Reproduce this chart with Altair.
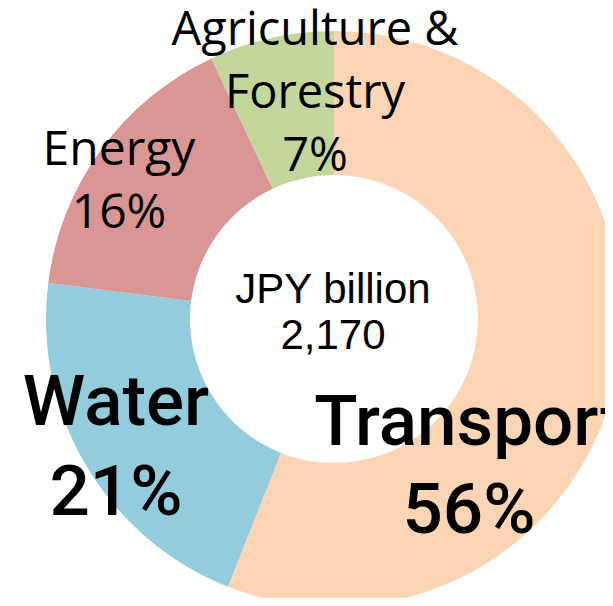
import altair as alt
import pandas as pd

categories = ["Transport", "Water", "Energy", "Agriculture & Forestry"]
label_names = ["Transport", "Water", "Energy", "Agriculture &\nForestry"]
shares = [56, 21, 16, 7]
colors = ["#FCD5B5", "#93CDDD", "#D99694", "#C3D69B"]
total_value = 2170
total_unit = "JPY billion"

df = pd.DataFrame({
    "category": categories,
    "value": shares,
    "idx": list(range(len(categories))),
    "label": [f"{n}\n{v}%" for n, v in zip(label_names, shares)],
})
center_df = pd.DataFrame({"text": [f"{total_unit}\n{total_value:,}"]})

CX, CY = 326, 311

base = alt.Chart(df)

arcs = base.mark_arc(radius=288, radius2=144, stroke=None).encode(
    theta=alt.Theta("value:Q", stack=True),
    color=alt.Color("category:N", scale=alt.Scale(domain=categories, range=colors), legend=None),
    order=alt.Order("idx:Q"),
    x=alt.value(CX),
    y=alt.value(CY),
)

label_style = {
    "Transport": dict(x=461, y=437, font="Roboto", fontSize=71, lineHeight=88, fontWeight=500),
    "Water": dict(x=108, y=417, font="Roboto", fontSize=71, lineHeight=90, fontWeight=500),
    "Energy": dict(x=111, y=157, font="Open Sans", fontSize=48, lineHeight=63, fontWeight="normal"),
    "Agriculture & Forestry": dict(x=307, y=37, font="Open Sans", fontSize=47, lineHeight=63, fontWeight="normal"),
}

layers = [arcs]
for cat in categories:
    s = label_style[cat]
    layers.append(
        base.transform_filter(alt.datum.category == cat).mark_text(
            align="center", baseline="alphabetic", lineBreak="\n",
            font=s["font"], fontSize=s["fontSize"], lineHeight=s["lineHeight"],
            fontWeight=s["fontWeight"], color="black",
        ).encode(text="label:N", x=alt.value(s["x"]), y=alt.value(s["y"]))
    )

center = alt.Chart(center_df).mark_text(
    align="center", baseline="alphabetic", lineBreak="\n",
    font="Liberation Sans", fontSize=42, lineHeight=46, color="black",
).encode(text="text:N", x=alt.value(325), y=alt.value(295))
layers.append(center)

chart = alt.layer(*layers).properties(
    width=597, height=590, padding=0, autosize=alt.AutoSizeParams(type="none")
).configure_view(stroke=None)

chart.save("out.html", embed_options={"renderer": "svg", "actions": False})
